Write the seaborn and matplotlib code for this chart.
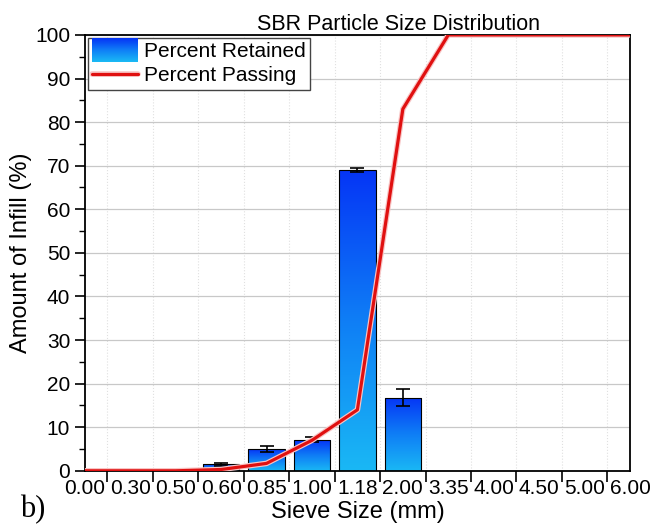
import numpy as np
import pandas as pd
import matplotlib
matplotlib.use("Agg")
import matplotlib.pyplot as plt
import seaborn as sns
from matplotlib.colors import LinearSegmentedColormap
from matplotlib.patches import Rectangle
from matplotlib.lines import Line2D
from matplotlib.legend_handler import HandlerBase
import matplotlib.patheffects as pe

# data
sieve_sizes = ["0.00", "0.30", "0.50", "0.60", "0.85", "1.00", "1.18",
               "2.00", "3.35", "4.00", "4.50", "5.00", "6.00"]
percent_retained = [0, 0, 0, 1.5, 5.0, 7.1, 69.0, 16.8, 0, 0, 0, 0, 0]
retained_err = [0, 0, 0, 0.3, 0.7, 0.6, 0.4, 2.0, 0, 0, 0, 0, 0]
percent_passing = [0, 0, 0, 0.3, 1.7, 7.0, 14.0, 83.0, 100, 100, 100, 100, 100]

sns.set_style("ticks", {"text.color": "black", "axes.labelcolor": "black",
                        "xtick.color": "black", "ytick.color": "black"})
plt.rcParams["font.family"] = ["Liberation Sans Narrow", "Liberation Sans", "DejaVu Sans"]

df = pd.DataFrame({"Sieve": sieve_sizes, "Retained": percent_retained,
                   "Err": retained_err, "Passing": percent_passing})

grad = LinearSegmentedColormap.from_list("bar", ["#1ab8f4", "#0f7ef6", "#0535f5"])

fig = plt.figure(figsize=(6.57, 5.29), dpi=100)
ax = fig.add_axes([0.129, 0.110, 0.830, 0.824])

sns.barplot(data=df, x="Sieve", y="Retained", ax=ax, width=0.8,
            color="#0f7ef6", edgecolor="black", linewidth=0.8, errorbar=None)

# gradient fill inside each bar
img = np.linspace(0, 1, 256).reshape(-1, 1)
for p in ax.patches:
    h = p.get_height()
    if h <= 0:
        p.set_visible(False)
        continue
    x0 = p.get_x()
    w = p.get_width()
    im = ax.imshow(img, cmap=grad, origin="lower", aspect="auto",
                   extent=[x0, x0 + w, 0, h], zorder=p.get_zorder() - 0.1)
    im.set_clip_path(p)
    p.set_facecolor("none")

# error bars on non-zero bars
centers = [p.get_x() + p.get_width() / 2 for p in ax.patches]
for c, v, e in zip(centers, df["Retained"], df["Err"]):
    if v > 0:
        ax.errorbar(c, v, yerr=e, color="black", capsize=5, lw=1.2,
                    capthick=1.2, zorder=5)

sns.lineplot(x=np.arange(len(sieve_sizes)), y=percent_passing, ax=ax, sort=False,
             color="#e01010", lw=2.3, zorder=6,
             path_effects=[pe.Stroke(linewidth=4, foreground="#f8c4c4"), pe.Normal()])

ax.set_xlim(0, len(sieve_sizes) - 1)
ax.set_ylim(0, 100)
ax.set_xticks(range(len(sieve_sizes)), sieve_sizes)
ax.set_xticks(np.arange(len(sieve_sizes) - 1) + 0.5, minor=True)
ax.tick_params(axis="x", which="major", length=0, labelsize=15, pad=6)
ax.tick_params(axis="x", which="minor", length=8, width=1.2, direction="out")
ax.set_yticks(range(0, 101, 10))
ax.set_yticks(range(5, 100, 10), minor=True)
ax.tick_params(axis="y", which="major", length=7, width=1.2, labelsize=15)
ax.tick_params(axis="y", which="minor", length=4, width=1.0)

ax.grid(axis="y", which="major", color="#c8c8c8", lw=0.9)
ax.grid(axis="x", which="minor", color="#e0e0e0", lw=0.8, ls=":")
ax.set_axisbelow(True)
for s in ax.spines.values():
    s.set_visible(True)
    s.set_linewidth(1.3)
    s.set_color("black")

ax.set_title("SBR Particle Size Distribution", fontsize=15.5, pad=3, x=0.576)
ax.set_xlabel("Sieve Size (mm)", fontsize=17, labelpad=2)
ax.set_ylabel("Amount of Infill (%)", fontsize=17, labelpad=2,
              family=["Liberation Sans", "DejaVu Sans"])


class GradientPatch(HandlerBase):
    def create_artists(self, legend, orig_handle, xdescent, ydescent,
                       width, height, fontsize, trans):
        n = 24
        hh = height * 1.6
        y0 = -ydescent - (hh - height) / 2
        arts = []
        for k in range(n):
            arts.append(Rectangle((-xdescent, y0 + hh * k / n), width, hh / n + 0.3,
                                  facecolor=grad(k / (n - 1)), edgecolor="none",
                                  transform=trans))
        return arts


bar_handle = Rectangle((0, 0), 1, 1)
line_handle = Line2D([], [], color="#e01010", lw=2.3,
                     path_effects=[pe.Stroke(linewidth=4, foreground="#f8c4c4"), pe.Normal()])
leg = ax.legend([bar_handle, line_handle], ["Percent Retained", "Percent Passing"],
                handler_map={Rectangle: GradientPatch()}, loc="upper left",
                bbox_to_anchor=(0.0, 1.0), fontsize=15, frameon=True, fancybox=False,
                edgecolor="#444444", framealpha=1, handlelength=2.2, handletextpad=0.3,
                borderpad=0.2, labelspacing=0.25, borderaxespad=0.15)
leg.get_frame().set_linewidth(1.0)

fig.text(0.03, 0.022, "b)", family=["Liberation Serif", "DejaVu Serif"], fontsize=22)

fig.savefig("out.png", dpi=100)
